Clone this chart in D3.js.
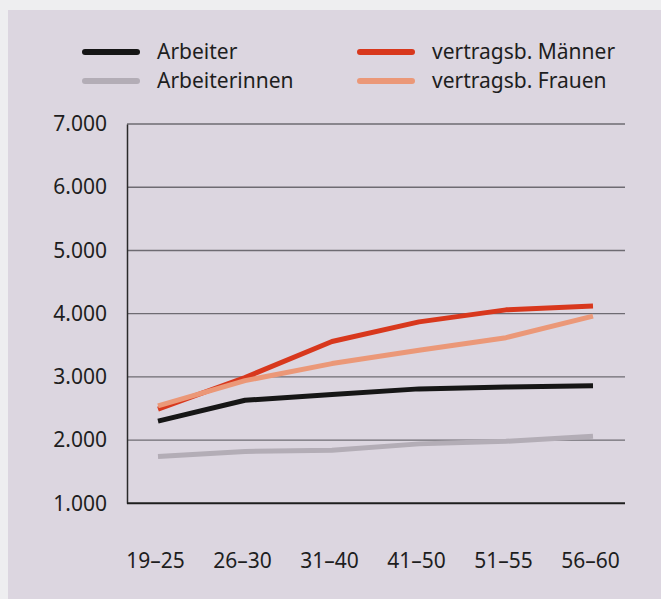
<!DOCTYPE html>
<html>
<head>
<meta charset="utf-8">
<script src="https://cdn.jsdelivr.net/npm/d3@7"></script>
<style>
  html, body { margin: 0; padding: 0; background: #eeeef0; }
  svg { display: block; }
  text { font-family: "Noto Sans", sans-serif; fill: #1e1e1e; }
</style>
</head>
<body>
<svg id="chart" width="661" height="599"></svg>
<script>
const categories = ["19–25", "26–30", "31–40", "41–50", "51–55", "56–60"];
const arbeiter = [2300, 2630, 2720, 2810, 2840, 2860];
const arbeiterinnen = [1740, 1820, 1840, 1940, 1980, 2060];
const maenner = [2490, 2990, 3560, 3870, 4060, 4120];
const frauen = [2540, 2940, 3210, 3420, 3620, 3960];
const yTicks = [1000, 2000, 3000, 4000, 5000, 6000, 7000];
const seriesNames = ["Arbeiter", "Arbeiterinnen", "vertragsb. Männer", "vertragsb. Frauen"];

const series = [
  { name: seriesNames[0], values: arbeiter, color: "#161616" },
  { name: seriesNames[1], values: arbeiterinnen, color: "#b3adb6" },
  { name: seriesNames[2], values: maenner, color: "#d8381d" },
  { name: seriesNames[3], values: frauen, color: "#eb9878" }
];

const svg = d3.select("#chart");
svg.append("rect").attr("x", 8).attr("y", 10).attr("width", 661 - 8).attr("height", 599 - 10)
  .attr("fill", "#dcd6e0");

const mLeft = 127, mRight = 625, mTop = 124, mBottom = 503.3;
const x = d3.scalePoint().domain(categories).range([158, 593]);
const y = d3.scaleLinear().domain([1000, 7000]).range([mBottom, mTop]);

const de = d3.formatLocale({ decimal: ",", thousands: ".", grouping: [3], currency: ["", " €"] });
const fmt = de.format(",d");

// gridlines
svg.append("g").selectAll("line").data(yTicks.filter(d => d > 1000)).join("line")
  .attr("x1", mLeft).attr("x2", mRight)
  .attr("y1", d => y(d)).attr("y2", d => y(d))
  .attr("stroke", "#6e6b72").attr("stroke-width", 1.4);

// y axis
const yAxis = d3.axisLeft(y).tickValues(yTicks).tickFormat(fmt).tickSize(0).tickPadding(20);
const gy = svg.append("g").attr("transform", `translate(${mLeft},0)`).call(yAxis);
gy.select(".domain").attr("stroke", "#2a2a2a").attr("stroke-width", 1.5);
gy.selectAll("text").style("font-family", "Noto Sans, sans-serif").style("font-size", "21px").attr("fill", "#1e1e1e");

// x axis line
svg.append("line").attr("x1", mLeft).attr("x2", mRight).attr("y1", mBottom).attr("y2", mBottom)
  .attr("stroke", "#1e1e1e").attr("stroke-width", 2);

// x labels
const xAxis = d3.axisBottom(x).tickSize(0).tickPadding(0);
const gx = svg.append("g").attr("transform", `translate(-3,${mBottom + 50})`).call(xAxis);
gx.select(".domain").remove();
gx.selectAll("text").style("font-family", "Noto Sans, sans-serif").style("font-size", "21px").attr("fill", "#1e1e1e");

// lines
const line = d3.line().x((d, i) => x(categories[i])).y(d => y(d));
svg.append("g").selectAll("path").data(series).join("path")
  .attr("d", d => line(d.values))
  .attr("fill", "none").attr("stroke", d => d.color)
  .attr("stroke-width", 5).attr("stroke-linejoin", "round");

// legend
const legendPos = [
  { sx: 85, ty: 52 }, { sx: 85, ty: 81 }, { sx: 360, ty: 52 }, { sx: 360, ty: 81 }
];
const lg = svg.append("g").selectAll("g").data(series).join("g")
  .attr("transform", (d, i) => `translate(${legendPos[i].sx},${legendPos[i].ty})`);
lg.append("line").attr("x1", 0).attr("x2", 52).attr("y1", 0).attr("y2", 0)
  .attr("stroke", d => d.color).attr("stroke-width", 6).attr("stroke-linecap", "round");
lg.append("text").attr("x", 72).attr("y", 0).attr("dy", "0.35em")
  .style("font-size", "21px").text(d => d.name);
</script>
</body>
</html>
